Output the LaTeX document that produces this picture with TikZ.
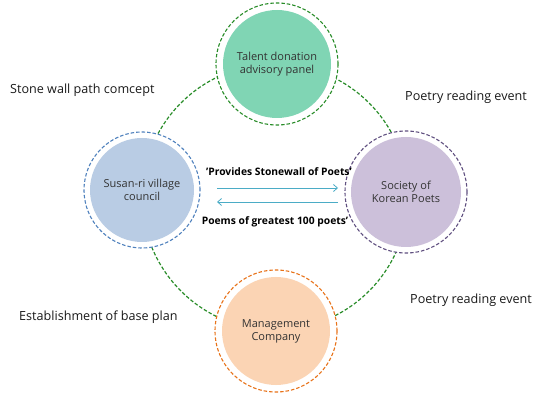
\documentclass[tikz,border=0pt]{standalone}
\usepackage{fontspec}
\setmainfont{Open Sans}
\usetikzlibrary{arrows.meta}
\definecolor{topfill}{RGB}{128,213,180}
\definecolor{leftfill}{RGB}{185,204,228}
\definecolor{rightfill}{RGB}{204,192,218}
\definecolor{botfill}{RGB}{251,212,180}
\definecolor{gline}{RGB}{40,140,40}
\definecolor{bline}{RGB}{79,129,189}
\definecolor{pline}{RGB}{96,80,128}
\definecolor{oline}{RGB}{232,115,26}
\definecolor{arrowc}{RGB}{75,172,198}
\begin{document}
\begin{tikzpicture}[x=1pt,y=-1pt,
  ring/.style={circle,draw,fill=white,line width=1.1pt,dash pattern=on 3.5pt off 2pt,minimum size=#1,inner sep=0pt},
  disc/.style={circle,minimum size=#1,inner sep=0pt,align=center,font=\fontsize{11}{13}\selectfont,text=black!80},
  lab/.style={font=\fontsize{12.6}{14}\selectfont,text=black!90,anchor=west,inner sep=0pt},
  blab/.style={font=\bfseries\fontsize{10.3}{12}\selectfont,inner sep=0pt},
  flow/.style={draw=arrowc,line width=0.8pt,-{Straight Barb[length=4pt,width=7pt]}}
]
\useasboundingbox (0,0) rectangle (538,395);
\coordinate (c) at (275,197);
\draw[draw=gline,line width=1.2pt,dash pattern=on 3.5pt off 2pt] (c) circle[radius=133];
% top
\node[ring=122pt,draw=gline] (tr) at (277,64) {};
\node[disc=108pt,fill=topfill] (t) at (277,64) {Talent donation\\advisory panel};
% left
\node[ring=116pt,draw=bline] (lr) at (142,190) {};
\node[disc=104pt,fill=leftfill] (l) at (142,190) {Susan-ri village\\council};
% right
\node[ring=122pt,draw=pline] (rr) at (406,192) {};
\node[disc=110pt,fill=rightfill] (r) at (406,192) {Society of\\Korean Poets};
% bottom
\node[ring=122pt,draw=oline] (br) at (276,331) {};
\node[disc=108pt,fill=botfill] (b) at (276,331) {Management\\Company};
% arrows
\coordinate (a1) at (217,188);
\coordinate (a2) at (338,188);
\coordinate (a3) at (338,202);
\coordinate (a4) at (217,202);
\draw[flow] (a1) -- (a2);
\draw[flow] (a3) -- (a4);
\node[blab] (p1) at (279,172) {'Provides Stonewall of Poets'};
\node[blab] (p2) at (275,222) {Poems of greatest 100 poets'};
% labels
\node[lab] (s1) at (10,90) {Stone wall path comcept};
\node[lab] (s2) at (405,97) {Poetry reading event};
\node[lab] (s3) at (19,317) {Establishment of base plan};
\node[lab] (s4) at (410,300) {Poetry reading event};
\end{tikzpicture}
\end{document}
